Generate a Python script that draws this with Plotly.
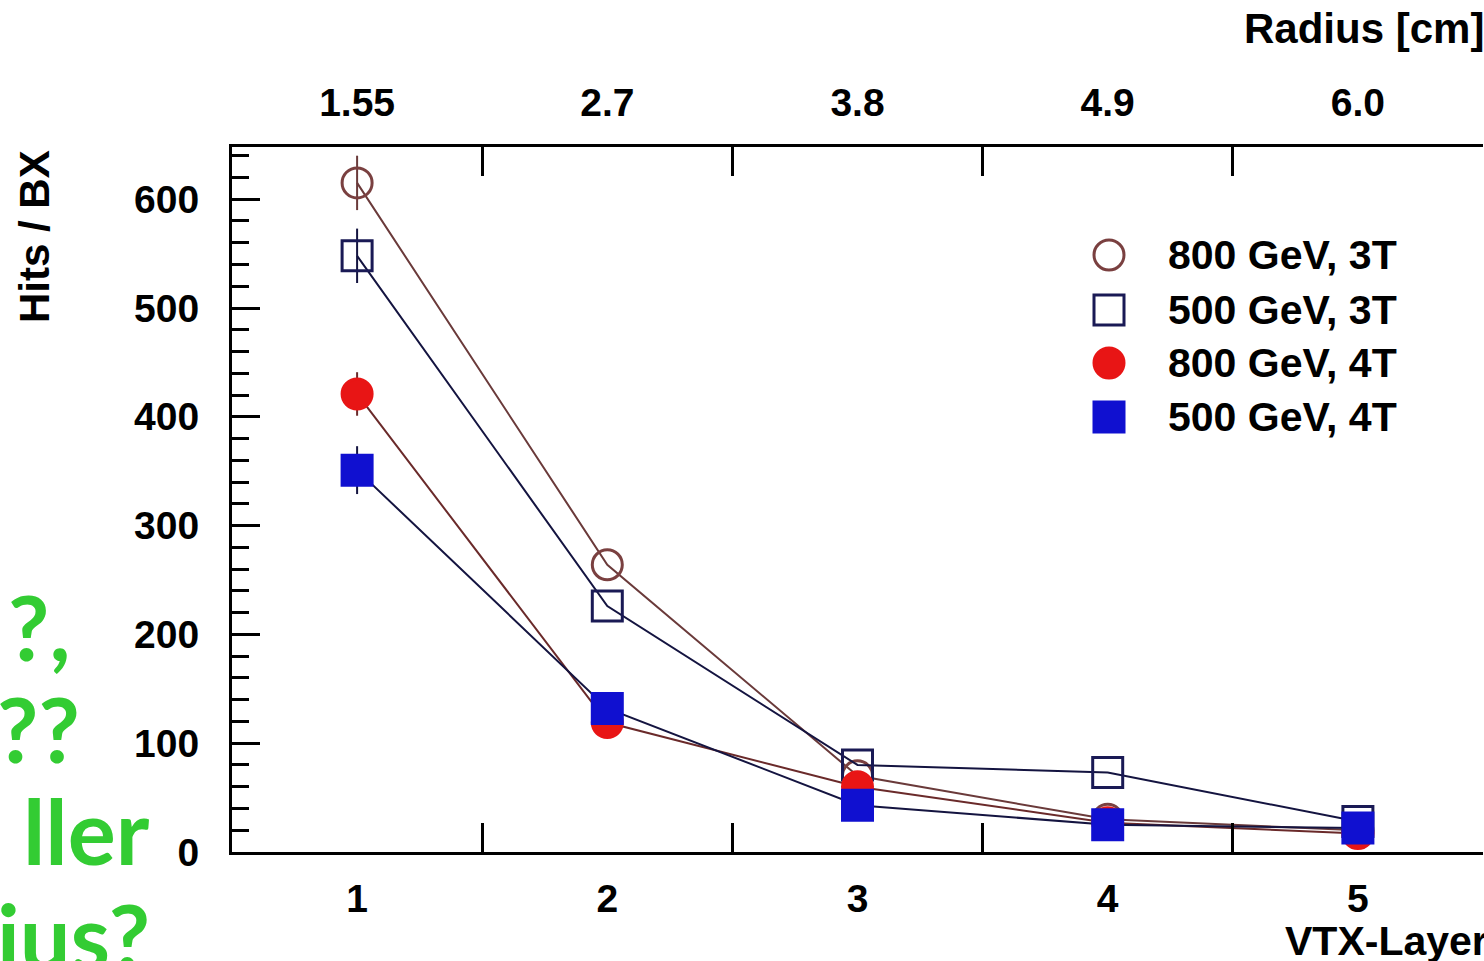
import plotly.graph_objects as go

# VTX layer numbers and their radii
layers = [1, 2, 3, 4, 5]
radius_labels = ["1.55", "2.7", "3.8", "4.9", "6.0"]

# Hits per bunch crossing for each configuration
hits_800_3T = [615, 264, 70, 30, 20]
hits_500_3T = [548, 226, 80, 73, 28]
hits_800_4T = [421, 119, 60, 27, 17]
hits_500_4T = [351, 132, 43, 25, 22]

# uncertainties (only the innermost layer has bars sticking out of the markers)
err_800_3T = [25, 0, 0, 0, 0]
err_500_3T = [25, 0, 0, 0, 0]
err_800_4T = [20, 0, 0, 0, 0]
err_500_4T = [22, 0, 0, 0, 0]

series_names = ["800 GeV, 3T", "500 GeV, 3T", "800 GeV, 4T", "500 GeV, 4T"]

W, H = 1484, 961
L, R, T, B = 232, 1483, 147, 852


def px(x):
    return (x - L) / (R - L)


def py(y):
    return (B - y) / (B - T)


FONT = "Liberation Sans"
fig = go.Figure()

styles = [
    dict(symbol="circle-open", color="#7a4040", line="#6a3a3a"),
    dict(symbol="square-open", color="#1a1a55", line="#141440"),
    dict(symbol="circle", color="#e81515", line="#6a2a2a"),
    dict(symbol="square", color="#1010d0", line="#141440"),
]
values = [hits_800_3T, hits_500_3T, hits_800_4T, hits_500_4T]
errors = [err_800_3T, err_500_3T, err_800_4T, err_500_4T]

for name, st, vals, errs in zip(series_names, styles, values, errors):
    fig.add_trace(go.Scatter(
        x=layers, y=vals, name=name, mode="lines+markers",
        line=dict(color=st["line"], width=2),
        marker=dict(symbol=st["symbol"], size=30, color=st["color"],
                    line=dict(color=st["color"], width=3)),
        error_y=dict(type="data", array=errs, width=0, thickness=2, color=st["line"]),
        showlegend=False, cliponaxis=False,
    ))

axis_font = dict(family=FONT, size=39, color="black", weight="bold")

fig.update_layout(
    width=W, height=H,
    margin=dict(l=L, r=W - R, t=T, b=H - B, pad=0),
    paper_bgcolor="white", plot_bgcolor="white",
    showlegend=False,
    xaxis=dict(
        range=[0.5, 5.5], tickvals=[1.5, 2.5, 3.5, 4.5], showticklabels=False,
        ticks="inside", ticklen=29, tickwidth=3, tickcolor="black",
        showline=True, linewidth=3, linecolor="black", mirror="ticks",
        showgrid=False, zeroline=False,
    ),
    xaxis2=dict(
        range=[0.5, 5.5], overlaying="x", side="bottom", anchor="y",
        tickvals=layers, ticktext=[str(v) for v in layers], ticks="",
        tickfont=axis_font, ticklabelstandoff=20,
        showgrid=False, zeroline=False, showline=False,
    ),
    xaxis3=dict(
        range=[0.5, 5.5], overlaying="x", side="top", anchor="y",
        tickvals=layers, ticktext=radius_labels, ticks="",
        tickfont=axis_font, ticklabelstandoff=22,
        showgrid=False, zeroline=False, showline=False,
    ),
    yaxis=dict(
        range=[0, 648], tickvals=[0, 100, 200, 300, 400, 500, 600],
        ticks="inside", ticklen=28, tickwidth=3, tickcolor="black",
        minor=dict(dtick=20, ticks="inside", ticklen=17, tickwidth=3, tickcolor="black"),
        tickfont=axis_font, ticklabelstandoff=22,
        showline=True, linewidth=3, linecolor="black",
        showgrid=False, zeroline=False,
    ),
)

# invisible traces to activate the overlay axes
fig.add_trace(go.Scatter(x=[None], y=[None], xaxis="x2", showlegend=False))
fig.add_trace(go.Scatter(x=[None], y=[None], xaxis="x3", showlegend=False))

# axis titles
fig.add_annotation(text="Hits / BX", xref="paper", yref="paper", x=px(35), y=py(237),
                   textangle=-90, showarrow=False, xanchor="center", yanchor="middle",
                   font=dict(family=FONT, size=42, color="black", weight="bold"))
fig.add_annotation(text="Radius [cm]", xref="paper", yref="paper", x=px(1486), y=py(28),
                   showarrow=False, xanchor="right", yanchor="middle",
                   font=dict(family=FONT, size=42, color="black", weight="bold"))
fig.add_annotation(text="VTX-Layer", xref="paper", yref="paper", x=px(1490), y=py(941),
                   showarrow=False, xanchor="right", yanchor="middle",
                   font=dict(family=FONT, size=41, color="black", weight="bold"))

# legend: symbols drawn as shapes, labels as annotations
legend_rows = [255, 310, 363, 417]
half = 15
for name, st, yc in zip(series_names, styles, legend_rows):
    x0, x1 = px(1109 - half), px(1109 + half)
    y0, y1 = py(yc + half), py(yc - half)
    kind = "circle" if "circle" in st["symbol"] else "rect"
    filled = "open" not in st["symbol"]
    fig.add_shape(type=kind, xref="paper", yref="paper", x0=x0, x1=x1, y0=y0, y1=y1,
                  line=dict(color=st["color"], width=3),
                  fillcolor=st["color"] if filled else "rgba(0,0,0,0)")
    fig.add_annotation(text=name, xref="paper", yref="paper", x=px(1166), y=py(yc),
                       showarrow=False, xanchor="left", yanchor="middle",
                       font=dict(family=FONT, size=41, color="black", weight="bold"))

# green handwritten remarks on the left margin
green = dict(family="Lato", size=90, color="#33cc33", weight="bold")
for txt, xr, yc in [("?,", 72, 626), ("??", 82, 728), ("ller", 152, 830), ("ius?", 152, 935)]:
    fig.add_annotation(text=txt, xref="paper", yref="paper", x=px(xr), y=py(yc),
                       showarrow=False, xanchor="right", yanchor="middle", font=green)

fig.write_html("out.html")
